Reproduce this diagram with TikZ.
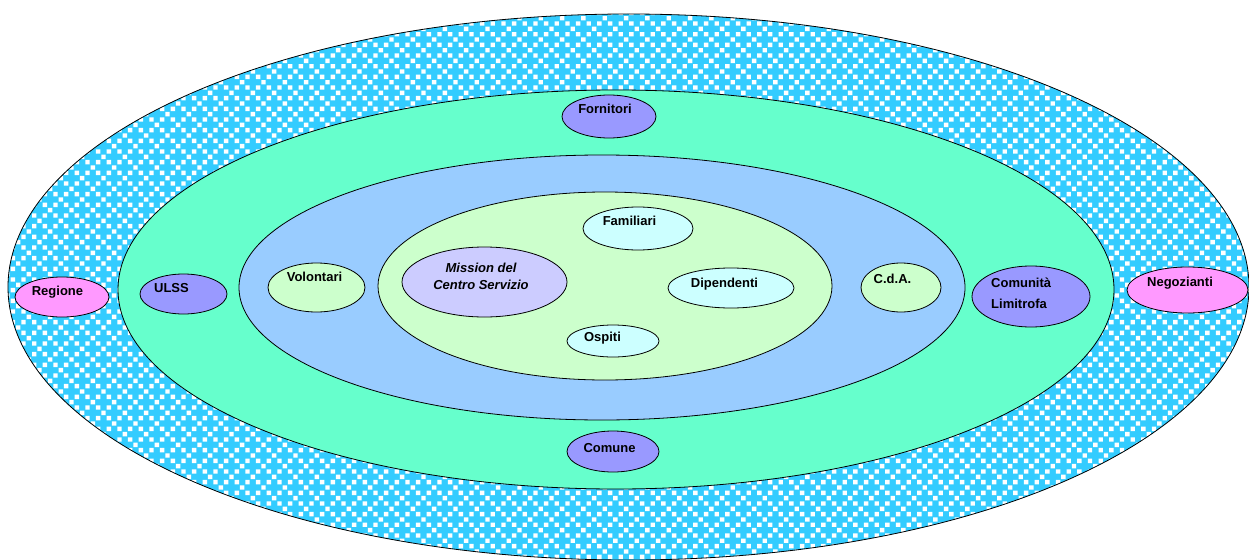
\documentclass[tikz,border=0pt]{standalone}
\usepackage{fontspec}
\setmainfont{Liberation Sans}
\usetikzlibrary{shapes.geometric,patterns}
\definecolor{skyc}{HTML}{33CCFF}
\definecolor{ringgreen}{HTML}{66FFCC}
\definecolor{ringblue}{HTML}{99CCFF}
\definecolor{coregreen}{HTML}{CCFFCC}
\definecolor{lavender}{HTML}{CCCCFF}
\definecolor{palecyan}{HTML}{CCFFFF}
\definecolor{violetb}{HTML}{9999FF}
\definecolor{pinkb}{HTML}{FF99FF}
\pgfdeclarepatternformonly{wsq}{\pgfpoint{-0.1pt}{-0.1pt}}{\pgfpoint{21.4pt}{21.4pt}}{\pgfpoint{21.33pt}{21.33pt}}{%
  \pgfpathrectangle{\pgfpoint{0pt}{0pt}}{\pgfpoint{4.4pt}{4.4pt}}%
  \pgfpathrectangle{\pgfpoint{10.67pt}{0pt}}{\pgfpoint{4.4pt}{4.4pt}}%
  \pgfpathrectangle{\pgfpoint{0pt}{10.67pt}}{\pgfpoint{4.4pt}{4.4pt}}%
  \pgfpathrectangle{\pgfpoint{10.67pt}{10.67pt}}{\pgfpoint{4.4pt}{4.4pt}}%
  \pgfpathrectangle{\pgfpoint{5.33pt}{5.33pt}}{\pgfpoint{4.4pt}{4.4pt}}%
  \pgfpathrectangle{\pgfpoint{16pt}{16pt}}{\pgfpoint{4.4pt}{4.4pt}}%
  \pgfusepath{fill}}
\tikzset{
  oval/.style={ellipse, draw=black, line width=0.8pt, inner sep=0pt, outer sep=0pt},
  lbl/.style={inner sep=0pt, text height=9.5pt, text depth=0pt, font=\fontsize{13}{17}\selectfont\bfseries},
}
\begin{document}
\begin{tikzpicture}[x=1pt,y=-1pt]
\useasboundingbox (0,0) rectangle (1249,559);
% rings
\node[oval, preaction={fill=skyc}, pattern=wsq, pattern color=white, minimum width=1241pt, minimum height=546pt] (outer) at (628.5,287) {};
\node[oval, fill=ringgreen, minimum width=996pt, minimum height=399pt] (green) at (616,289.5) {};
\node[oval, fill=ringblue, minimum width=726pt, minimum height=265pt] (blue) at (602,287.5) {};
\node[oval, fill=coregreen, minimum width=454pt, minimum height=188pt] (core) at (605,286) {};
% inner ellipses
\node[oval, fill=lavender, minimum width=165pt, minimum height=70pt] (mission) at (484.5,282) {};
\node[oval, fill=palecyan, minimum width=110pt, minimum height=43pt] (fam) at (638,228.5) {};
\node[oval, fill=palecyan, minimum width=126pt, minimum height=40pt] (dip) at (731,288) {};
\node[oval, fill=palecyan, minimum width=92pt, minimum height=32pt] (osp) at (613,341) {};
\node[oval, fill=coregreen, minimum width=97pt, minimum height=49pt] (vol) at (316.5,287.5) {};
\node[oval, fill=coregreen, minimum width=80pt, minimum height=49pt] (cda) at (901,287.5) {};
\node[oval, fill=violetb, minimum width=118pt, minimum height=61pt] (com) at (1031,296.5) {};
\node[oval, fill=pinkb, minimum width=121pt, minimum height=46pt] (neg) at (1187.5,290) {};
\node[oval, fill=pinkb, minimum width=94pt, minimum height=40pt] (reg) at (62,297) {};
\node[oval, fill=violetb, minimum width=87pt, minimum height=40pt] (ulss) at (183.5,294) {};
\node[oval, fill=violetb, minimum width=94pt, minimum height=43pt] (forn) at (609,116.5) {};
\node[oval, fill=violetb, minimum width=92pt, minimum height=41pt] (comune) at (613,451.5) {};
% labels
\node[inner sep=0pt, align=center, font=\fontsize{13}{17}\selectfont\bfseries\itshape] (missiont) at (481,276.5) {Mission del\\Centro Servizio};
\node[lbl] (famt) at (629.5,221) {Familiari};
\node[lbl] (dipt) at (724.5,283) {Dipendenti};
\node[lbl] (ospt) at (602.5,336.5) {Ospiti};
\node[lbl] (volt) at (314.5,276.5) {Volontari};
\node[lbl] (cdat) at (892.5,279) {C.d.A.};
\node[inner sep=0pt, anchor=west, align=left, font=\fontsize{13}{21}\selectfont\bfseries] (comt) at (991,293.5) {Comunità\\Limitrofa};
\node[lbl] (negt) at (1180,282) {Negozianti};
\node[lbl] (regt) at (57.5,290.5) {Regione};
\node[lbl] (ulsst) at (171.5,287.5) {ULSS};
\node[lbl] (fornt) at (605,108.5) {Fornitori};
\node[lbl] (comunet) at (609.5,447.5) {Comune};
\end{tikzpicture}
\end{document}
